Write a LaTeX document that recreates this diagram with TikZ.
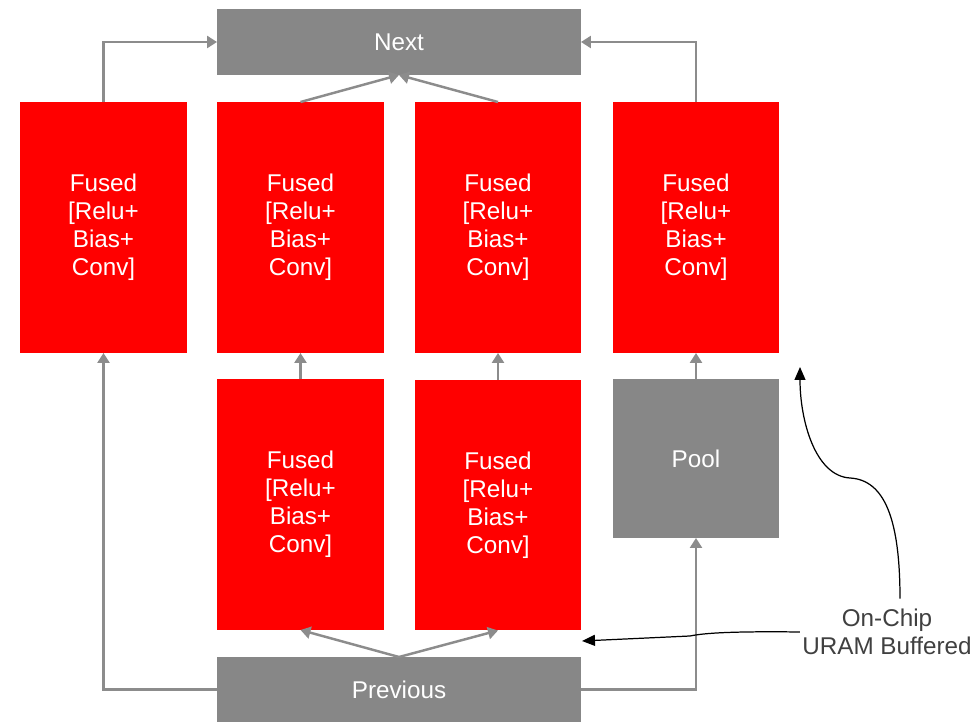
\documentclass[tikz,border=0pt]{standalone}
\usepackage{fontspec}
\setmainfont{Liberation Sans}
\usepackage{xcolor}
\usetikzlibrary{arrows.meta,positioning,calc}
\definecolor{layerred}{HTML}{FF0000}
\definecolor{iogray}{HTML}{878787}
\definecolor{wiregray}{HTML}{8C8C8C}
\definecolor{notegray}{HTML}{404040}
\newcommand{\fusedtxt}{Fused\\{[}Relu+\\Bias+\\Conv{]}}

\begin{document}
\begin{tikzpicture}[x=0.02cm, y=-0.02cm,
  font=\fontsize{13.8}{16}\selectfont,
  blk/.style={inner sep=0, outer sep=0, align=center, text=white},
  fused/.style={blk, fill=layerred, minimum width=3.34cm, minimum height=5.02cm},
  io/.style={blk, fill=iogray, minimum width=7.28cm, minimum height=1.32cm},
  arr/.style={-{Triangle[length=2mm,width=2.4mm]}, draw=wiregray, line width=1.4pt},
  notearr/.style={-{Triangle[length=2.6mm,width=2.2mm]}, black, line width=0.7pt}]
\useasboundingbox (0,0) rectangle (978,722);
\node[io] (next) at (399,42) {Next};
\node[fused] (f1) at (103.5,227.5) {\fusedtxt};
\node[fused] (f2) at (300.5,227.5) {\fusedtxt};
\node[fused] (f3) at (498,227.5) {\fusedtxt};
\node[fused] (f4) at (696,227.5) {\fusedtxt};
\node[fused] (g2) at (300.5,504.5) {\fusedtxt};
\node[fused] (g3) at (498,505) {\fusedtxt};
\node[blk, fill=iogray, minimum width=3.32cm, minimum height=3.18cm] (pool) at (696,458.5) {Pool};
\node[io, minimum height=1.3cm] (prev) at (399,689.5) {Previous};
\node[align=center, text=notegray, inner xsep=0.04cm, inner ysep=0.2cm] (note) at (887,632) {On-Chip\\URAM Buffered};
\coordinate (uram) at (582,641);
\coordinate (onchip) at (800,367);
% into next
\draw[arr] (f1.north) |- (next.west);
\draw[arr] (f4.north) |- (next.east);
\draw[arr] (f2.north) -- (next.south);
\draw[arr] (f3.north) -- (next.south);
% between rows
\draw[arr] (g2) -- (f2);
\draw[arr] (g3) -- (f3);
\draw[arr] (pool) -- (f4);
% out of previous
\draw[arr] (prev.west) -| (f1.south);
\draw[arr] (prev.east) -| (pool.south);
\draw[arr] (prev.north) -- (g2.south);
\draw[arr] (prev.north) -- (g3.south);
% annotation
\draw[notearr] ($(note.north)+(13,0)$) .. controls (900,520) and (885,480) .. (850,478) .. controls (815,476) and (800,420) .. (onchip);
\draw[notearr] (note.west) .. controls (720,631) and (700,634) .. (690,636) -- (uram);
\end{tikzpicture}
\end{document}
